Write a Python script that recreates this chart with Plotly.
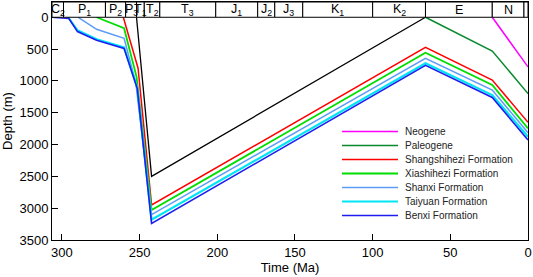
import plotly.graph_objects as go

# ---- data ----
time_bounds = [306.4, 299, 272, 259, 252, 247, 237, 201, 174, 163, 145, 100, 66, 23, 2.6, 0]
period_labels = ["C<sub>2</sub>", "P<sub>1</sub>", "P<sub>2</sub>", "P<sub>3</sub>", "T<sub>1</sub>",
                 "T<sub>2</sub>", "T<sub>3</sub>", "J<sub>1</sub>", "J<sub>2</sub>", "J<sub>3</sub>",
                 "K<sub>1</sub>", "K<sub>2</sub>", "E", "N", ""]

trias_t = [252, 242.3, 66]
trias_d = [0, 2500, 0]

neogene_t = [23, 0]
neogene_d = [0, 780]

paleogene_t = [66, 23, 0]
paleogene_d = [0, 530, 1200]

shangshihezi_t = [260.5, 251, 242.3, 66, 23, 0]
shangshihezi_d = [0, 800, 2950, 472, 986, 1651]

xiashihezi_t = [277.7, 260, 252, 242.3, 66, 23, 0]
xiashihezi_d = [0, 173, 933, 3030, 557, 1065, 1745]

shanxi_t = [289.5, 277.7, 260, 252.4, 242.3, 66, 23, 0]
shanxi_d = [0, 189, 330, 1038, 3100, 645, 1143, 1815]

taiyuan_t = [296, 290, 277.7, 260, 251.5, 242.3, 66, 23, 0]
taiyuan_d = [0, 205, 345, 475, 1110, 3180, 723, 1222, 1877]

benxi_t = [306.4, 295.5, 290, 277.7, 260, 251.5, 242.3, 66, 23, 0]
benxi_d = [0, 20, 225, 360, 490, 1120, 3240, 755, 1260, 1930]

series_names = ["Neogene", "Paleogene", "Shangshihezi Formation", "Xiashihezi Formation",
                "Shanxi Formation", "Taiyuan Formation", "Benxi Formation"]
series_colors = ["#FF00FF", "#0A8A2E", "#FF0000", "#00DD00", "#5C9CF5", "#00E5F5", "#1E1EF0"]
series_widths = [1.5, 1.5, 1.5, 1.8, 1.5, 2.2, 1.6]
series_t = [neogene_t, paleogene_t, shangshihezi_t, xiashihezi_t, shanxi_t, taiyuan_t, benxi_t]
series_d = [neogene_d, paleogene_d, shangshihezi_d, xiashihezi_d, shanxi_d, taiyuan_d, benxi_d]

FONT = "Arial, Liberation Sans, sans-serif"
Y_TOP = -240
Y_BOTTOM = 3500

fig = go.Figure()

fig.add_trace(go.Scatter(x=trias_t, y=trias_d, mode="lines",
                         line=dict(color="black", width=1.3), showlegend=False))
for name, col, w, t, d in zip(series_names, series_colors, series_widths, series_t, series_d):
    fig.add_trace(go.Scatter(x=t, y=d, mode="lines", name=name,
                             line=dict(color=col, width=w), showlegend=False))

shapes = []
annotations = []
# stratigraphic bar
for i in range(len(time_bounds) - 1):
    x0, x1 = time_bounds[i], time_bounds[i + 1]
    shapes.append(dict(type="rect", xref="x", yref="y", x0=x0, x1=x1, y0=Y_TOP, y1=0,
                       line=dict(color="black", width=1), fillcolor="white", layer="above"))
    if period_labels[i]:
        annotations.append(dict(xref="x", yref="y", x=(x0 + x1) / 2, y=Y_TOP / 2,
                                text=period_labels[i], showarrow=False,
                                font=dict(family=FONT, size=12.5, color="black"),
                                xanchor="center", yanchor="middle"))

# manual legend (paper coords)
L, R, T, B = 52, 528, 2, 240
def px(xp):
    return (xp - L) / (R - L)
def py(yp):
    return 1 - (yp - T) / (B - T)

for k, (name, col, w) in enumerate(zip(series_names, series_colors, series_widths)):
    yy = 131.5 + 14.0 * k
    shapes.append(dict(type="line", xref="paper", yref="paper", x0=px(342), x1=px(398),
                       y0=py(yy), y1=py(yy), line=dict(color=col, width=w)))
    annotations.append(dict(xref="paper", yref="paper", x=px(403), y=py(yy), text=name,
                            showarrow=False, xanchor="left", yanchor="middle",
                            font=dict(family=FONT, size=10, color="#222")))

fig.update_layout(
    width=533, height=277,
    margin=dict(l=52, r=5, t=2, b=37),
    paper_bgcolor="white", plot_bgcolor="white",
    font=dict(family=FONT, size=13, color="black"),
    shapes=shapes, annotations=annotations,
    showlegend=False,
)
fig.update_xaxes(range=[306.4, 0], tickvals=[300, 250, 200, 150, 100, 50, 0],
                 ticks="inside", ticklen=6, tickcolor="black",
                 showline=True, linecolor="black", linewidth=1, mirror=True,
                 showgrid=False, zeroline=False,
                 title=dict(text="Time (Ma)", standoff=1, font=dict(size=13)),
                 tickfont=dict(size=13))
fig.update_yaxes(range=[Y_BOTTOM, Y_TOP], tickvals=[0, 500, 1000, 1500, 2000, 2500, 3000, 3500],
                 ticks="inside", ticklen=6, tickcolor="black",
                 showline=True, linecolor="black", linewidth=1, mirror=True,
                 showgrid=False, zeroline=False,
                 title=dict(text="Depth (m)", standoff=5, font=dict(size=13)),
                 tickfont=dict(size=13))

fig.write_html("out.html", config={"displayModeBar": False},
               post_script="document.body.style.margin='0';document.body.style.overflow='hidden';")
